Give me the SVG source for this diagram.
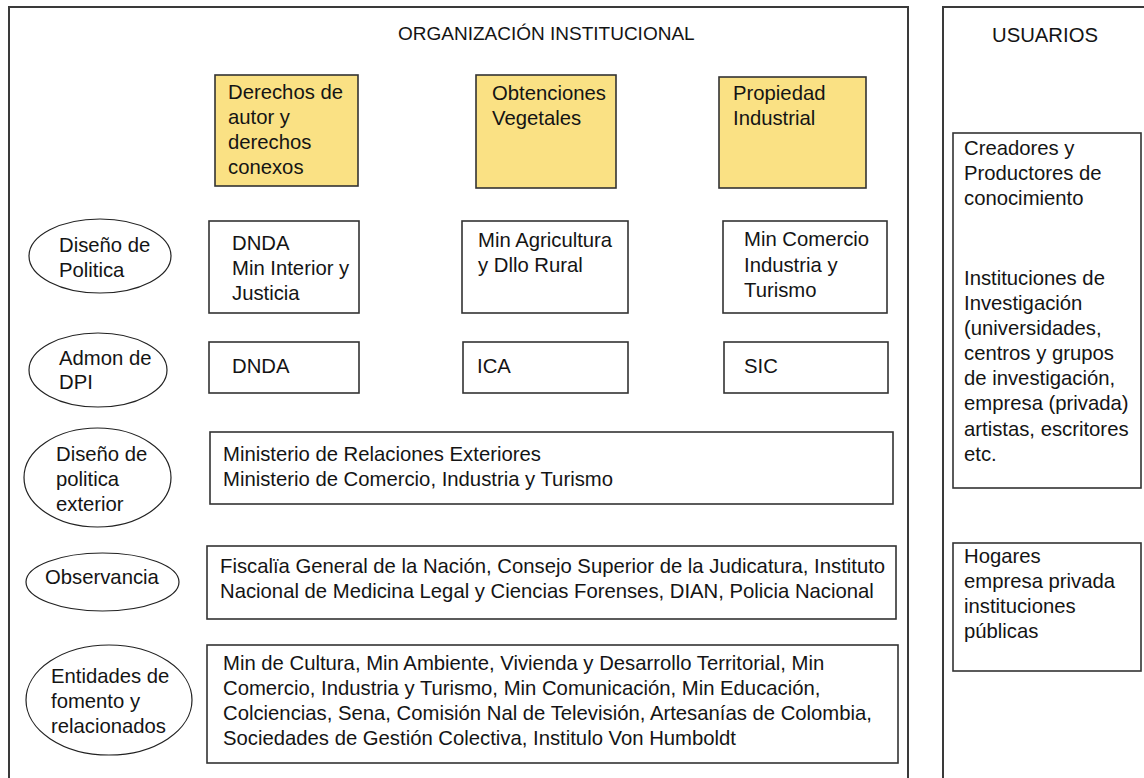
<svg xmlns="http://www.w3.org/2000/svg" width="1144" height="778" viewBox="0 0 1144 778">
<style>
text{font-family:"Liberation Sans",Arial,sans-serif;font-size:20.3px;fill:#141414}
text.title{font-size:19px}
.frame{fill:none;stroke:#3a3a3a;stroke-width:2}
.box{fill:#fff;stroke:#333;stroke-width:1.6}
.yel{fill:#fae184;stroke:#333;stroke-width:1.6}
.ell{fill:#fff;stroke:#222;stroke-width:1.2}
</style>
<rect width="1144" height="778" fill="#fff"/>
<g id="organizacion">
<path class="frame" d="M9,790 V7 H908 V790"/>
<text class="title" x="398" y="40">ORGANIZACIÓN INSTITUCIONAL</text>
</g>
<g id="usuarios">
<path class="frame" d="M943,790 V7 H1150"/>
<text x="992" y="42">USUARIOS</text>
</g>
<g id="derechos">
<rect class="yel" x="215" y="75" width="143" height="111"/>
<text x="228" y="99">Derechos de</text><text x="228" y="124">autor y</text><text x="228" y="149">derechos</text><text x="228" y="174">conexos</text>
</g>
<g id="obtenciones">
<rect class="yel" x="476" y="75" width="140" height="113"/>
<text x="492" y="100">Obtenciones</text><text x="492" y="125">Vegetales</text>
</g>
<g id="propiedad">
<rect class="yel" x="719" y="77" width="147" height="111"/>
<text x="733" y="100">Propiedad</text><text x="733" y="125">Industrial</text>
</g>
<g id="e-politica">
<ellipse class="ell" cx="100" cy="256" rx="71" ry="37"/>
<text x="59" y="252">Diseño de</text><text x="59" y="277">Politica</text>
</g>
<g id="b-dnda1">
<rect class="box" x="209" y="221" width="150" height="92"/>
<text x="232" y="250">DNDA</text><text x="232" y="275">Min Interior y</text><text x="232" y="300">Justicia</text>
</g>
<g id="b-agri">
<rect class="box" x="462" y="221" width="166" height="92"/>
<text x="478" y="247">Min Agricultura</text><text x="478" y="272">y Dllo Rural</text>
</g>
<g id="b-comercio">
<rect class="box" x="723" y="221" width="164" height="92"/>
<text x="744" y="246">Min Comercio</text><text x="744" y="272">Industria y</text><text x="744" y="297">Turismo</text>
</g>
<g id="e-admon">
<ellipse class="ell" cx="98" cy="370" rx="69" ry="37"/>
<text x="59" y="365">Admon de</text><text x="59" y="389">DPI</text>
</g>
<g id="b-dnda2">
<rect class="box" x="209" y="342" width="150" height="51"/>
<text x="232" y="373">DNDA</text>
</g>
<g id="b-ica">
<rect class="box" x="463" y="342" width="165" height="51"/>
<text x="477" y="373">ICA</text>
</g>
<g id="b-sic">
<rect class="box" x="724" y="342" width="164" height="51"/>
<text x="744" y="373">SIC</text>
</g>
<g id="e-exterior">
<ellipse class="ell" cx="97.5" cy="477.5" rx="73.5" ry="49.5"/>
<text x="56" y="461">Diseño de</text><text x="56" y="486">politica</text><text x="56" y="511">exterior</text>
</g>
<g id="b-exterior">
<rect class="box" x="210" y="432" width="683" height="72"/>
<text x="223" y="461">Ministerio de Relaciones Exteriores</text><text x="223" y="486">Ministerio de Comercio, Industria y Turismo</text>
</g>
<g id="e-observancia">
<ellipse class="ell" cx="102.5" cy="582" rx="76.5" ry="29"/>
<text x="45" y="584">Observancia</text>
</g>
<g id="b-observancia">
<rect class="box" x="207" y="546" width="689" height="73"/>
<text x="220" y="573">Fiscalïa General de la Nación, Consejo Superior de la Judicatura, Instituto</text><text x="220" y="598">Nacional de Medicina Legal y Ciencias Forenses, DIAN, Policia Nacional</text>
</g>
<g id="e-entidades">
<ellipse class="ell" cx="109" cy="700" rx="83" ry="55"/>
<text x="51" y="683">Entidades de</text><text x="51" y="708">fomento y</text><text x="51" y="733">relacionados</text>
</g>
<g id="b-entidades">
<rect class="box" x="207" y="645" width="691" height="118"/>
<text x="223" y="670">Min de Cultura, Min Ambiente, Vivienda y Desarrollo Territorial, Min</text><text x="223" y="695">Comercio, Industria y Turismo, Min Comunicación, Min Educación,</text><text x="223" y="720">Colciencias, Sena, Comisión Nal de Televisión, Artesanías de Colombia,</text><text x="223" y="745">Sociedades de Gestión Colectiva, Institulo Von Humboldt</text>
</g>
<g id="u-creadores">
<rect class="box" x="953" y="133" width="188" height="355"/>
<text x="964" y="155">Creadores y</text><text x="964" y="180">Productores de</text><text x="964" y="205">conocimiento</text>
<text x="964" y="285">Instituciones de</text><text x="964" y="310">Investigación</text><text x="964" y="335">(universidades,</text><text x="964" y="360">centros y grupos</text><text x="964" y="385">de investigación,</text><text x="964" y="410">empresa (privada)</text><text x="964" y="436">artistas, escritores</text><text x="964" y="461">etc.</text>
</g>
<g id="u-hogares">
<rect class="box" x="953" y="543" width="188" height="128"/>
<text x="964" y="563">Hogares</text><text x="964" y="588">empresa privada</text><text x="964" y="613">instituciones</text><text x="964" y="638">públicas</text>
</g>
<g id="connectors"></g>
</svg>
